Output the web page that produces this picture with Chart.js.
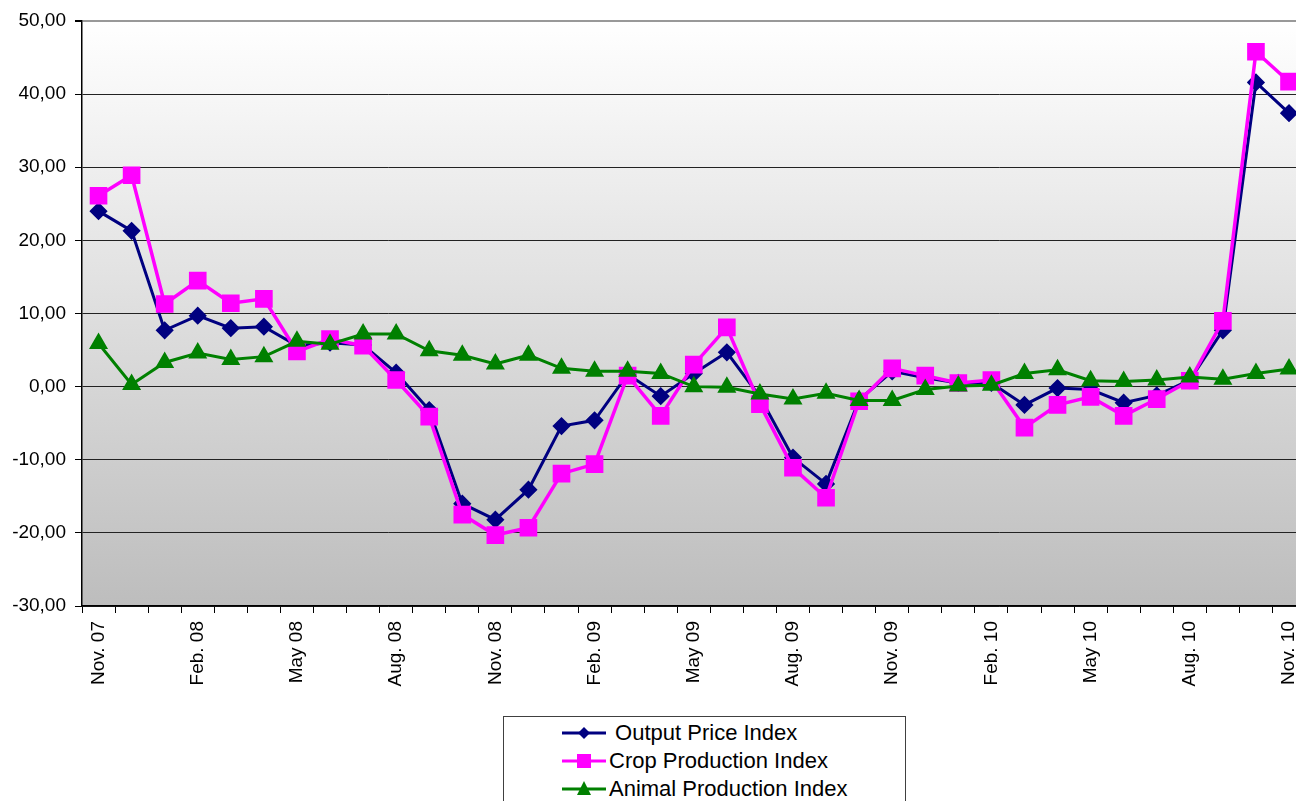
<!DOCTYPE html>
<html>
<head>
<meta charset="utf-8">
<script src="https://cdn.jsdelivr.net/npm/chart.js@4/dist/chart.umd.min.js"></script>
<style>
body{margin:0;overflow:hidden;background:#fff;width:1296px;height:801px;position:relative;font-family:"Liberation Sans",Arial,sans-serif}
#wrap{position:absolute;left:0;top:0;width:1320px;height:801px}
#legend{position:absolute;left:503px;top:716px;width:401px;height:100px;border:1px solid #404040;background:#fff}
.item{position:absolute;left:58px;height:28px;display:flex;align-items:center;font-size:22px;color:#000;white-space:pre}
.item svg{margin-right:3px}
</style>
</head>
<body>
<div id="wrap"><canvas id="chart" width="1320" height="801"></canvas></div>
<div id="legend"></div>
<script>
//Categories (monthly)
var months = ["Nov. 07","Dec. 07","Jan. 08","Feb. 08","Mar. 08","Apr. 08","May 08","Jun. 08","Jul. 08","Aug. 08","Sep. 08","Oct. 08",
  "Nov. 08","Dec. 08","Jan. 09","Feb. 09","Mar. 09","Apr. 09","May 09","Jun. 09","Jul. 09","Aug. 09","Sep. 09","Oct. 09",
  "Nov. 09","Dec. 09","Jan. 10","Feb. 10","Mar. 10","Apr. 10","May 10","Jun. 10","Jul. 10","Aug. 10","Sep. 10","Oct. 10","Nov. 10"];

//Series values
var outputPrice = [24.0,21.3,7.7,9.7,8.0,8.2,5.6,6.0,5.7,1.9,-3.2,-16.0,
  -18.2,-14.1,-5.4,-4.6,1.7,-1.3,1.8,4.7,-1.4,-9.7,-13.3,-1.8,
  2.1,1.2,0.5,0.5,-2.5,-0.2,-0.4,-2.2,-1.2,0.9,7.7,41.6,37.4];
var cropProduction = [26.1,28.9,11.3,14.5,11.4,12.0,4.8,6.5,5.6,0.9,-4.1,-17.5,
  -20.3,-19.3,-11.9,-10.6,1.5,-4.0,3.0,8.1,-2.4,-11.1,-15.2,-2.0,
  2.5,1.5,0.5,0.9,-5.6,-2.5,-1.4,-4.0,-1.7,0.8,9.0,45.8,41.7];
var animalProduction = [5.9,0.3,3.3,4.6,3.7,4.1,6.2,5.8,7.2,7.2,4.9,4.3,
  3.1,4.3,2.5,2.1,2.1,1.8,0.0,-0.1,-1.0,-1.7,-0.9,-1.9,
  -1.9,-0.4,0.1,0.2,1.8,2.3,0.8,0.7,0.9,1.3,1.0,1.8,2.4];

//Axis
var yMin = -30, yMax = 50, yStep = 10;

//plot background gradient
var bgPlugin = {
  id: 'plotBg',
  beforeDraw: function(chart){
    var a = chart.chartArea, ctx = chart.ctx;
    var g = ctx.createLinearGradient(0, a.top, 0, a.bottom);
    g.addColorStop(0, '#ffffff');
    g.addColorStop(1, '#bdbdbd');
    ctx.save();
    ctx.fillStyle = g;
    ctx.fillRect(a.left, a.top, a.right - a.left, a.bottom - a.top);
    ctx.restore();
  }
};

var globalChart = new Chart(document.getElementById('chart'), {
  type: 'line',
  data: {
    labels: months,
    datasets: [
      {label: ' Output Price Index', data: outputPrice, borderColor: '#000080', backgroundColor: '#000080',
       borderWidth: 3, pointStyle: 'rectRot', pointRadius: 7, order: 3},
      {label: 'Crop Production Index', data: cropProduction, borderColor: '#ff00ff', backgroundColor: '#ff00ff',
       borderWidth: 3.5, pointStyle: 'rect', pointRadius: 10, order: 2},
      {label: 'Animal Production Index', data: animalProduction, borderColor: '#008000', backgroundColor: '#008000',
       borderWidth: 3, pointStyle: 'triangle', pointRadius: 8, order: 1}
    ]
  },
  options: {
    responsive: false,
    animation: false,
    layout: {padding: {top: 21, right: 1, bottom: 0, left: 0}},
    plugins: {legend: {display: false}, tooltip: {enabled: false}},
    elements: {line: {tension: 0}, point: {borderWidth: 1}},
    scales: {
      x: {
        offset: true,
        grid: {offset: true, drawOnChartArea: false, color: '#000', tickLength: 7, tickColor: '#000'},
        border: {color: '#000', width: 1.5},
        ticks: {
          autoSkip: false, minRotation: 90, maxRotation: 90, padding: 8, color: '#000',
          font: {family: 'Liberation Sans', size: 19},
          callback: function(v, i){ return i % 3 === 0 ? months[i] : ''; }
        },
        afterFit: function(s){ s.height = 195; }
      },
      y: {
        min: yMin, max: yMax,
        grid: {
          color: function(c){ return c.tick && c.tick.value === yMax ? '#999' : '#222'; },
          lineWidth: function(c){ return c.tick && c.tick.value === yMax ? 2 : 1; },
          tickLength: 7, tickColor: '#000'
        },
        border: {color: '#000', width: 1.5},
        ticks: {
          stepSize: yStep, padding: 9, color: '#000',
          font: {family: 'Liberation Sans', size: 19},
          callback: function(v){ return v.toFixed(2).replace('.', ','); }
        },
        afterFit: function(s){ s.width = 82; }
      }
    }
  },
  plugins: [bgPlugin]
});

//HTML legend from the datasets
function markerSvg(ds){
  var c = ds.borderColor, m;
  if (ds.pointStyle === 'rectRot') m = '<polygon points="22,3 28,9 22,15 16,9" fill="'+c+'"/>';
  else if (ds.pointStyle === 'rect') m = '<rect x="15" y="2" width="14" height="14" fill="'+c+'"/>';
  else m = '<polygon points="22,1 29,15 15,15" fill="'+c+'"/>';
  return '<svg width="44" height="18"><line x1="0" y1="9" x2="44" y2="9" stroke="'+c+'" stroke-width="3"/>'+m+'</svg>';
}
var leg = document.getElementById('legend');
globalChart.data.datasets.forEach(function(ds, i){
  var d = document.createElement('div');
  d.className = 'item';
  d.style.top = (2 + i * 28) + 'px';
  d.innerHTML = markerSvg(ds) + '<span>' + ds.label + '</span>';
  leg.appendChild(d);
});
</script>
</body>
</html>
